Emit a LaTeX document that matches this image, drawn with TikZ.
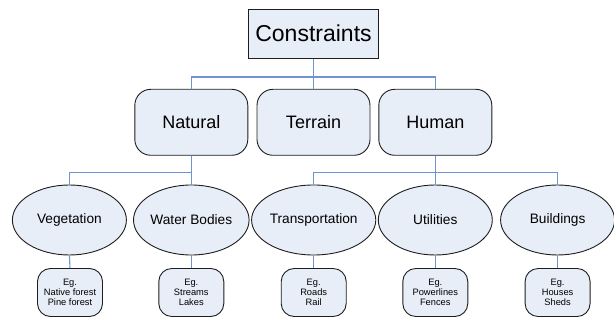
\documentclass[tikz,border=0pt]{standalone}
\usepackage{fontspec}
\setmainfont{Liberation Sans}
\usetikzlibrary{shapes.geometric}
\definecolor{fillc}{RGB}{232,238,248}
\definecolor{linec}{RGB}{112,148,208}
\definecolor{edgec}{RGB}{30,30,30}
\begin{document}
\begin{tikzpicture}[x=1pt,y=-1pt,
  topbox/.style={draw=edgec,fill=fillc,line width=0.9pt,minimum width=130pt,minimum height=49pt,inner sep=0pt,font=\fontsize{23}{26}\selectfont},
  catbox/.style={draw=edgec,fill=fillc,line width=0.9pt,rounded corners=16pt,minimum width=113pt,minimum height=66pt,inner sep=0pt,font=\fontsize{18}{21}\selectfont},
  subell/.style={ellipse,draw=edgec,fill=fillc,line width=0.9pt,minimum width=114pt,minimum height=70pt,inner sep=0pt,font=\fontsize{13.7}{16}\selectfont},
  egbox/.style={draw=edgec,fill=fillc,line width=0.9pt,rounded corners=13pt,minimum width=65pt,minimum height=48pt,inner sep=0pt,align=center,font=\fontsize{9.3}{10.3}\selectfont},
  conn/.style={draw=linec,line width=1.1pt}]
\useasboundingbox (0,0) rectangle (614,320);
\node[topbox] (cons) at (313.5,33.7) {Constraints};
\node[catbox] (nat) at (191.3,122.3) {Natural};
\node[catbox] (ter) at (313.5,122.3) {Terrain};
\node[catbox] (hum) at (435.3,122.3) {Human};
\node[subell] (veg) at (69.4,220) {Vegetation};
\node[subell] (wat) at (191.3,220) {Water Bodies};
\node[subell] (tra) at (313.7,220) {Transportation};
\node[subell] (uti) at (435.3,220) {Utilities};
\node[subell] (bui) at (557.6,220) {Buildings};
\node[egbox] (eveg) at (70,292.5) {Eg.\\Native forest\\Pine forest};
\node[egbox] (ewat) at (191.3,292.5) {Eg.\\Streams\\Lakes};
\node[egbox] (etra) at (313.7,292.5) {Eg.\\Roads\\Rail};
\node[egbox] (euti) at (435.3,292.5) {Eg.\\Powerlines\\Fences};
\node[egbox] (ebui) at (557.6,292.5) {Eg.\\Houses\\Sheds};
\draw[conn] (cons.south) -- ++(0,18.4) -| (nat.north);
\draw[conn] (cons.south) -- ++(0,18.4) -| (hum.north);
\draw[conn] (cons.south) -- (ter.north);
\draw[conn] (nat.south) -- ++(0,16.4) -| (veg.north);
\draw[conn] (nat.south) -- (wat.north);
\draw[conn] (hum.south) -- ++(0,16.4) -| (tra.north);
\draw[conn] (hum.south) -- ++(0,16.4) -| (bui.north);
\draw[conn] (hum.south) -- (uti.north);
\draw[conn] (veg.south) -- (eveg.north);
\draw[conn] (wat.south) -- (ewat.north);
\draw[conn] (tra.south) -- (etra.north);
\draw[conn] (uti.south) -- (euti.north);
\draw[conn] (bui.south) -- (ebui.north);
\end{tikzpicture}
\end{document}
